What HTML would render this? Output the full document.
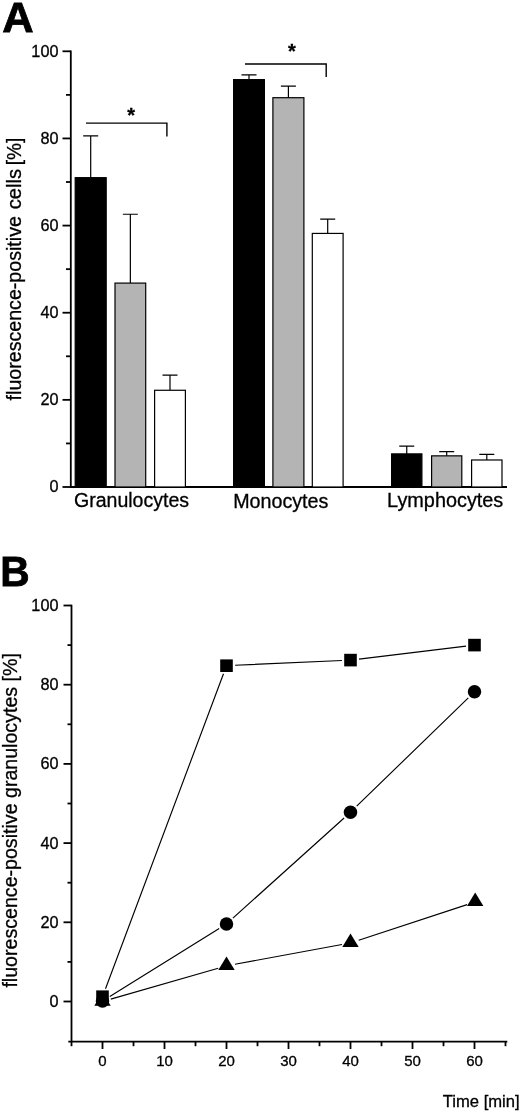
<!DOCTYPE html>
<html><head><meta charset="utf-8"><title>Figure</title>
<style>
html,body{margin:0;padding:0;background:#fff;}
body{width:520px;height:1113px;overflow:hidden;}
svg{display:block;}
text{font-family:"Liberation Sans",sans-serif;fill:#000;stroke:#000;stroke-width:0.3px;}
.tk{font-size:15px;}
.cat{font-size:19.4px;}
.ax{font-size:19.4px;}
.big{font-size:42.4px;font-weight:bold;stroke:#000;stroke-width:0.8px;}
</style></head><body>
<svg width="520" height="1113" viewBox="0 0 520 1113">
<rect width="520" height="1113" fill="#fff"/>

<text class="big" transform="translate(2.3,32.4) scale(1.025,1.01)">A</text>
<g stroke="#000" stroke-width="1.8" fill="none">
<path d="M70.8 50.49999999999996 V487.0 H507"/>
<path d="M62.5 487.0 H70.8"/>
<path d="M62.5 399.86 H70.8"/>
<path d="M62.5 312.72 H70.8"/>
<path d="M62.5 225.57999999999998 H70.8"/>
<path d="M62.5 138.44 H70.8"/>
<path d="M62.5 51.299999999999955 H70.8"/>
<path d="M66 443.43 H70.8"/>
<path d="M66 356.28999999999996 H70.8"/>
<path d="M66 269.15 H70.8"/>
<path d="M66 182.01 H70.8"/>
<path d="M66 94.87 H70.8"/>
</g>
<text class="tk" style="font-size:15.8px" transform="translate(58.5,492.4) scale(1.03,1)" text-anchor="end">0</text>
<text class="tk" style="font-size:15.8px" transform="translate(58.5,405.2) scale(1.03,1)" text-anchor="end">20</text>
<text class="tk" style="font-size:15.8px" transform="translate(58.5,318.1) scale(1.03,1)" text-anchor="end">40</text>
<text class="tk" style="font-size:15.8px" transform="translate(58.5,230.9) scale(1.03,1)" text-anchor="end">60</text>
<text class="tk" style="font-size:15.8px" transform="translate(58.5,143.8) scale(1.03,1)" text-anchor="end">80</text>
<text class="tk" style="font-size:15.8px" transform="translate(58.5,56.6) scale(1.03,1)" text-anchor="end">100</text>
<text class="ax" transform="translate(21,400.4) rotate(-90)" textLength="184.3" lengthAdjust="spacingAndGlyphs" style="font-size:20.4px">fluorescence-positive</text>
<text class="ax" transform="translate(21,209.3) rotate(-90)" textLength="40.4" lengthAdjust="spacingAndGlyphs" style="font-size:20.4px">cells</text>
<text class="ax" transform="translate(21,165.3) rotate(-90)" textLength="27.6" lengthAdjust="spacingAndGlyphs" style="font-size:20.4px">[%]</text>
<path d="M90.69999999999999 177.65299999999996 V135.82580000000002 M83.19999999999999 135.82580000000002 H98.19999999999999" stroke="#000" stroke-width="1.2" fill="none"/>
<rect x="75.19999999999999" y="177.65299999999996" width="31.000000000000004" height="309.34700000000004" fill="#000" stroke="#000" stroke-width="1.2"/>
<path d="M130.35000000000002 283.0924 V214.2518 M122.85000000000002 214.2518 H137.85000000000002" stroke="#000" stroke-width="1.2" fill="none"/>
<rect x="115.0" y="283.0924" width="30.700000000000006" height="203.9076" fill="#b4b4b4" stroke="#000" stroke-width="1.2"/>
<path d="M170.0 390.27459999999996 V375.0251 M162.5 375.0251 H177.5" stroke="#000" stroke-width="1.2" fill="none"/>
<rect x="154.6" y="390.27459999999996" width="30.8" height="96.72540000000004" fill="#fff" stroke="#000" stroke-width="1.2"/>
<path d="M249.0 79.62049999999999 V74.82780000000002 M241.5 74.82780000000002 H256.5" stroke="#000" stroke-width="1.2" fill="none"/>
<rect x="233.6" y="79.62049999999999" width="30.8" height="407.3795" fill="#000" stroke="#000" stroke-width="1.2"/>
<path d="M288.4 97.70204999999999 V86.156 M280.9 86.156 H295.9" stroke="#000" stroke-width="1.2" fill="none"/>
<rect x="272.90000000000003" y="97.70204999999999" width="30.99999999999999" height="389.29795" fill="#b4b4b4" stroke="#000" stroke-width="1.2"/>
<path d="M327.7 233.4226 V219.04449999999997 M320.2 219.04449999999997 H335.2" stroke="#000" stroke-width="1.2" fill="none"/>
<rect x="312.3" y="233.4226" width="30.8" height="253.5774" fill="#fff" stroke="#000" stroke-width="1.2"/>
<path d="M406.75 453.8868 V446.0442 M399.25 446.0442 H414.25" stroke="#000" stroke-width="1.2" fill="none"/>
<rect x="391.6" y="453.8868" width="30.3" height="33.113200000000006" fill="#000" stroke="#000" stroke-width="1.2"/>
<path d="M446.7 455.84745 V451.7083 M439.2 451.7083 H454.2" stroke="#000" stroke-width="1.2" fill="none"/>
<rect x="431.6" y="455.84745" width="30.199999999999978" height="31.15255000000002" fill="#b4b4b4" stroke="#000" stroke-width="1.2"/>
<path d="M486.8 459.9866 V454.3225 M479.3 454.3225 H494.3" stroke="#000" stroke-width="1.2" fill="none"/>
<rect x="471.6" y="459.9866" width="30.400000000000023" height="27.01339999999999" fill="#fff" stroke="#000" stroke-width="1.2"/>
<g stroke="#000" stroke-width="1.4" fill="none">
<path d="M86 123.1 H166.9 V136.5"/>
<path d="M245 64 H326.2 V77"/>
</g>
<text x="131.2" y="121.5" text-anchor="middle" style="font-size:20px;font-weight:bold">*</text>
<text x="292" y="57.9" text-anchor="middle" style="font-size:20px;font-weight:bold">*</text>
<text class="cat" x="74" y="507.4" style="font-size:19.55px">Granulocytes</text>
<text class="cat" x="233.2" y="508.2" style="font-size:19.7px">Monocytes</text>
<text class="cat" x="387.1" y="506.5" style="font-size:19.85px">Lymphocytes</text>
<text class="big" transform="translate(0.2,586.3) scale(0.96,1)">B</text>
<g stroke="#000" stroke-width="1.8" fill="none">
<path d="M71.5 604.7 V1041.7 "/>
<path d="M68.3 1041.7 H507.3"/>
<path d="M63.5 1001.5 H71.5"/>
<path d="M63.5 922.3 H71.5"/>
<path d="M63.5 843.1 H71.5"/>
<path d="M63.5 763.9 H71.5"/>
<path d="M63.5 684.7 H71.5"/>
<path d="M63.5 605.5 H71.5"/>
<path d="M67.5 961.9 H71.5"/>
<path d="M67.5 882.7 H71.5"/>
<path d="M67.5 803.5 H71.5"/>
<path d="M67.5 724.3 H71.5"/>
<path d="M67.5 645.1 H71.5"/>
<path d="M102.5 1041.7 V1049"/>
<path d="M164.5 1041.7 V1049"/>
<path d="M226.5 1041.7 V1049"/>
<path d="M288.5 1041.7 V1049"/>
<path d="M350.5 1041.7 V1049"/>
<path d="M412.5 1041.7 V1049"/>
<path d="M474.5 1041.7 V1049"/>
<path d="M71.5 1041.7 V1046.2"/>
<path d="M133.5 1041.7 V1046.2"/>
<path d="M195.5 1041.7 V1046.2"/>
<path d="M257.5 1041.7 V1046.2"/>
<path d="M319.5 1041.7 V1046.2"/>
<path d="M381.5 1041.7 V1046.2"/>
<path d="M443.5 1041.7 V1046.2"/>
<path d="M505.5 1041.7 V1046.2"/>
</g>
<text class="tk" style="font-size:15.8px" transform="translate(58.5,1006.9) scale(1.03,1)" text-anchor="end">0</text>
<text class="tk" style="font-size:15.8px" transform="translate(58.5,927.6) scale(1.03,1)" text-anchor="end">20</text>
<text class="tk" style="font-size:15.8px" transform="translate(58.5,848.5) scale(1.03,1)" text-anchor="end">40</text>
<text class="tk" style="font-size:15.8px" transform="translate(58.5,769.2) scale(1.03,1)" text-anchor="end">60</text>
<text class="tk" style="font-size:15.8px" transform="translate(58.5,690.1) scale(1.03,1)" text-anchor="end">80</text>
<text class="tk" style="font-size:15.8px" transform="translate(58.5,610.9) scale(1.03,1)" text-anchor="end">100</text>
<text class="tk" transform="translate(102.5,1066.4) scale(1.0,1)" text-anchor="middle">0</text>
<text class="tk" transform="translate(164.5,1066.4) scale(1.0,1)" text-anchor="middle">10</text>
<text class="tk" transform="translate(226.5,1066.4) scale(1.0,1)" text-anchor="middle">20</text>
<text class="tk" transform="translate(288.5,1066.4) scale(1.0,1)" text-anchor="middle">30</text>
<text class="tk" transform="translate(350.5,1066.4) scale(1.0,1)" text-anchor="middle">40</text>
<text class="tk" transform="translate(412.5,1066.4) scale(1.0,1)" text-anchor="middle">50</text>
<text class="tk" transform="translate(474.5,1066.4) scale(1.0,1)" text-anchor="middle">60</text>
<text class="ax" transform="translate(17,820.35) rotate(-90)" text-anchor="middle" textLength="334.5" lengthAdjust="spacingAndGlyphs" style="font-size:20.4px">fluorescence-positive granulocytes [%]</text>
<text class="tk" x="519.6" y="1107.3" text-anchor="end" textLength="76.8" lengthAdjust="spacingAndGlyphs" style="font-size:16px">Time [min]</text>
<path d="M105.5 988.7 L223.5 673.7 M235.1 665.3 L341.9 660.5 M359.0 659.1 L466.0 646.1 " stroke="#000" stroke-width="1.15" fill="none"/>
<path d="M109.8 996.5 L219.2 928.4 M232.9 918.1 L344.1 818.0 M356.7 806.2 L468.3 697.8 " stroke="#000" stroke-width="1.15" fill="none"/>
<path d="M110.8 999.1 L218.2 968.2 M235.0 964.3 L342.0 944.5 M358.7 940.2 L467.1 904.6 " stroke="#000" stroke-width="1.15" fill="none"/>
<circle cx="102.5" cy="1001.0" r="6.75" fill="#000"/>
<circle cx="226.5" cy="923.9" r="6.75" fill="#000"/>
<circle cx="350.5" cy="812.2" r="6.75" fill="#000"/>
<circle cx="474.5" cy="691.8" r="6.75" fill="#000"/>
<path d="M102.5 992.2 L110.7 1005.7 H94.3 Z" fill="#000"/>
<path d="M226.5 956.6 L234.7 970.1 H218.3 Z" fill="#000"/>
<path d="M350.5 933.6 L358.7 947.1 H342.3 Z" fill="#000"/>
<path d="M475.2 892.6 L483.4 906.1 H467.0 Z" fill="#000"/>
<rect x="96.2" y="990.4" width="12.6" height="12.6" fill="#000"/>
<rect x="220.2" y="659.4" width="12.6" height="12.6" fill="#000"/>
<rect x="344.2" y="653.8" width="12.6" height="12.6" fill="#000"/>
<rect x="468.2" y="638.8" width="12.6" height="12.6" fill="#000"/>
</svg></body></html>
